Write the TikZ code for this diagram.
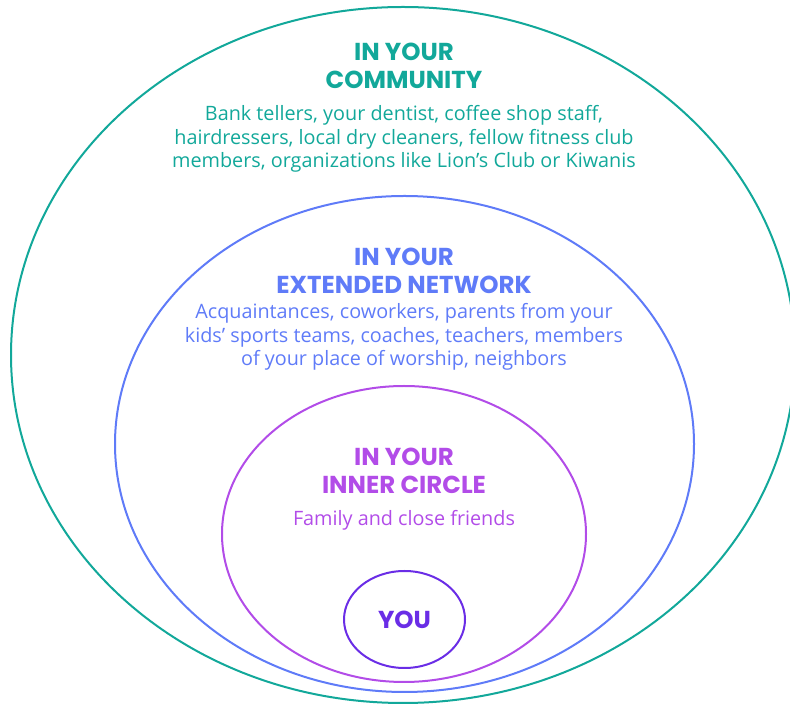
\documentclass[tikz,border=0pt]{standalone}
\usepackage{fontspec}
\setmainfont{Open Sans}
\newfontfamily\headfont{Poppins}
\usepackage{tikz}
\definecolor{comm}{HTML}{12A89A}
\definecolor{netw}{HTML}{5F7BF8}
\definecolor{inner}{HTML}{B24CE8}
\definecolor{you}{HTML}{6A2DE6}
\newcommand{\ring}[5]{
	\draw[line width=2pt,#1](#2,#3) ellipse ({#4} and {#5})
}
\begin{document}
\begin{tikzpicture}[x=1pt,y=1pt,
	head/.style={align=center,font=\headfont\fontsize{24.5}{28}\selectfont\bfseries},
	body/.style={align=center,font=\fontsize{19.8}{23.5}\selectfont}]
		\useasboundingbox(0,0)rectangle(790,704);
		\ring{comm}{403}{349}{392}{348};
		\ring{netw}{404.5}{260}{289.5}{248};
		\ring{inner}{404}{170}{182}{148};
		\ring{you}{404.5}{84.5}{60.5}{48.5};
		% community
		\node[head,text=comm](commhead) at(404, 638){IN YOUR\\COMMUNITY};
		\node[body,text=comm](commtext) at(404, 565){Bank tellers, your dentist, coffee shop staff,\\hairdressers, local dry cleaners, fellow fitness club\\members, organizations like Lion’s Club or Kiwanis};
		% extended network
		\node[head,text=netw](netwhead) at(404, 433.5){IN YOUR\\EXTENDED NETWORK};
		\node[body,text=netw](netwtext) at(404, 367){Acquaintances, coworkers, parents from your\\kids’ sports teams, coaches, teachers, members\\of your place of worship, neighbors};
		% inner circle
		\node[head,text=inner](innerhead) at(404, 233.5){IN YOUR\\INNER CIRCLE};
		\node[body,text=inner](innertext) at(404, 183.5){Family and close friends};
		\node[head,text=you](youtext) at(404.5, 84){YOU};
	\end{tikzpicture}
\end{document}
